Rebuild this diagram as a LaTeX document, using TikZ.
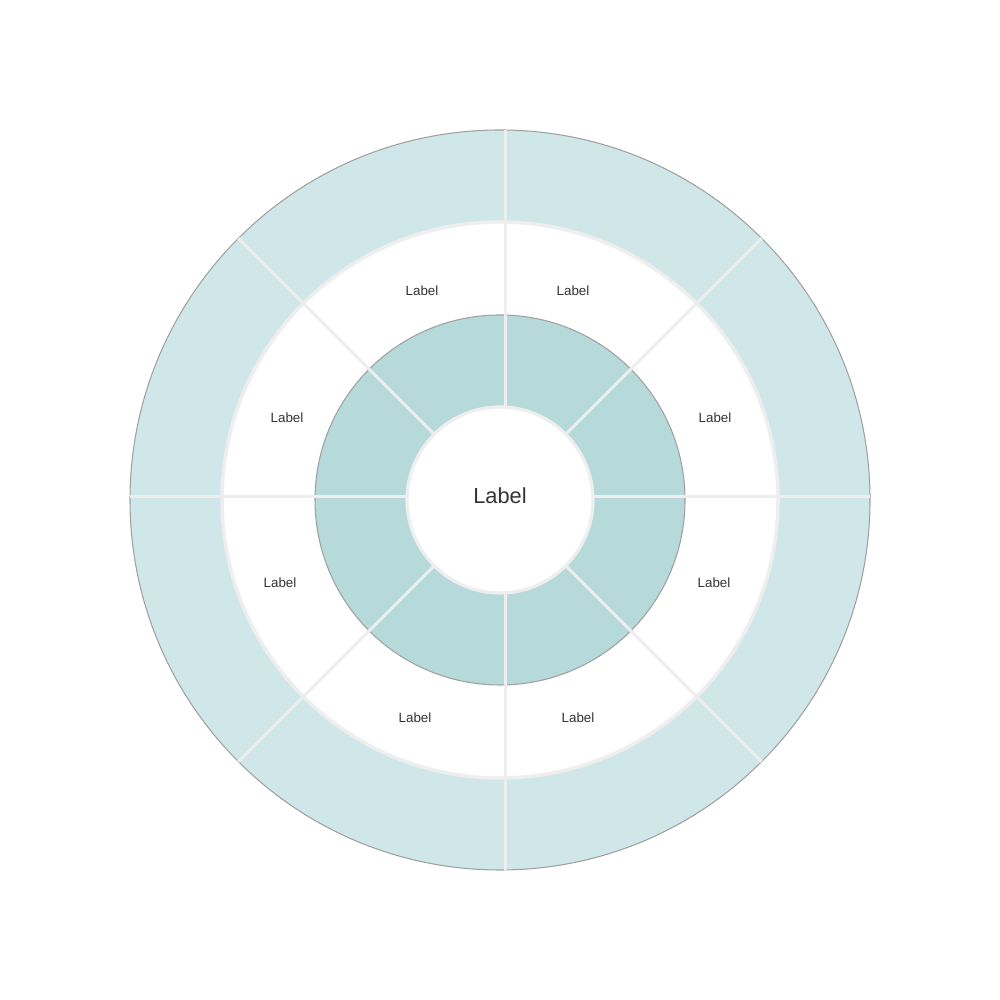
\documentclass[tikz,border=0pt]{standalone}
\usepackage{fontspec}
\setmainfont{Liberation Sans}
\usepackage{xcolor}
\usepackage{tikz}

\definecolor{outerteal}{HTML}{D0E7E9}
\definecolor{innerteal}{HTML}{B6D9DA}
\definecolor{rimgray}{HTML}{A0A0A0}
\definecolor{gapgray}{HTML}{EEEEEE}
\definecolor{labeltext}{HTML}{333333}

\tikzset{
    spoke/.style={gapgray, line width=0.85pt},
    ringlabel/.style={labeltext, font=\fontsize{3.8}{4.5}\selectfont},
    hublabel/.style={labeltext, font=\fontsize{6.2}{7.5}\selectfont}
}

\begin{document}
\begin{tikzpicture}
        \useasboundingbox (0, 0) rectangle (10, 10);

        % rings, outside in
        \fill[outerteal] (5, 5) circle (3.70);
        \draw[rimgray, line width=0.3pt] (5, 5) circle (3.70);
        \draw[fill=white, draw=gapgray, line width=1pt] (5, 5) circle (2.78);
        \fill[innerteal] (5, 5) circle (1.85);
        \draw[rimgray, line width=0.3pt] (5, 5) circle (1.85);

        % gaps between the segments
        \draw[spoke] (5.05, 8.70) -- (5.05, 1.30);
        \draw[spoke] (1.30, 5.035) -- (8.70, 5.035);
        \foreach \a in {45, 135, 225, 315}
            \draw[spoke] (5, 5) -- ++(\a:3.70);

        % hub
        \draw[fill=white, draw=gapgray, line width=0.9pt] (5, 5) circle (0.93);
        \node[hublabel] (hub) at (5, 5.04) {Label};

        \node[ringlabel] (l1) at (5.73, 7.09) {Label};
        \node[ringlabel] (l2) at (7.15, 5.82) {Label};
        \node[ringlabel] (l3) at (7.14, 4.17) {Label};
        \node[ringlabel] (l4) at (5.78, 2.82) {Label};
        \node[ringlabel] (l5) at (4.15, 2.82) {Label};
        \node[ringlabel] (l6) at (2.80, 4.17) {Label};
        \node[ringlabel] (l7) at (2.87, 5.82) {Label};
        \node[ringlabel] (l8) at (4.22, 7.09) {Label};

\end{tikzpicture}
\end{document}
